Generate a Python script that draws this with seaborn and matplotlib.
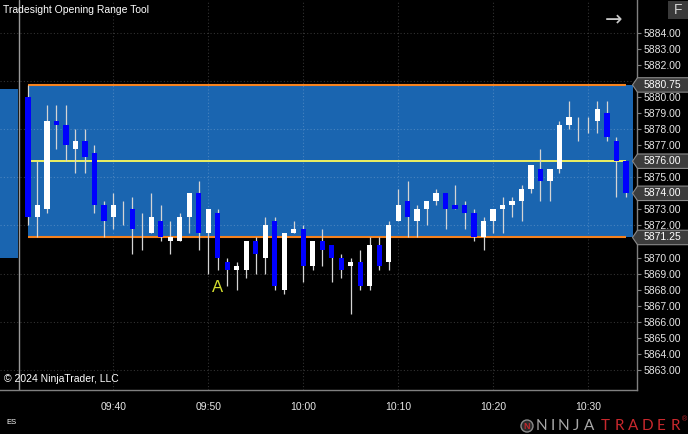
import pandas as pd
import matplotlib.pyplot as plt
import matplotlib.dates as mdates
import matplotlib.transforms as mtransforms
from matplotlib.patches import Polygon, Rectangle, Circle
import seaborn as sns

# ============================
# Data: 1-minute ES bars, 09:31 - 10:34
# ============================
opens = [5880, 5872.5, 5873, 5878.5, 5878.25, 5876.75, 5877.25, 5876.5, 5873.25, 5872.5,
         5872.75, 5873, 5871.5, 5871.5, 5872.25, 5871, 5871, 5872.5, 5874, 5871.5,
         5872.75, 5869.75, 5869.25, 5869.25, 5871, 5870, 5872.25, 5868, 5871.5, 5871.75,
         5869.5, 5871, 5870.75, 5870, 5869.5, 5869.75, 5868.25, 5870.75, 5869.75, 5872.25,
         5873.5, 5872.25, 5873, 5873.5, 5874, 5873.25, 5873.25, 5872.75, 5871.25, 5872.25,
         5873, 5873.25, 5873.5, 5874.25, 5875.5, 5874.75, 5875.5, 5878.25, 5878, 5878.25,
         5878.5, 5879, 5877.25, 5876]
highs = [5880.75, 5876, 5879.5, 5879.5, 5879.5, 5878, 5878, 5877, 5873.5, 5874,
         5873.5, 5873.75, 5872.75, 5874, 5873.25, 5872.25, 5872.75, 5874, 5874.75, 5873,
         5873, 5870, 5869.75, 5871, 5871.25, 5872.5, 5872.5, 5871.5, 5872.25, 5872,
         5871, 5871.75, 5870.75, 5870.25, 5870, 5870.5, 5871.25, 5871.25, 5872.25, 5874.25,
         5874.75, 5873.25, 5873.5, 5874.25, 5874, 5874.5, 5873.5, 5873, 5872.5, 5873,
         5873.75, 5873.75, 5874.5, 5875.75, 5876.75, 5875.5, 5878.5, 5879.75, 5878.75, 5878.75,
         5879.75, 5879.75, 5877.5, 5876]
lows = [5872, 5871.25, 5872.75, 5876.75, 5876, 5875.25, 5875.25, 5872.75, 5871.25, 5871.75,
        5872, 5870.25, 5870.5, 5871.5, 5871, 5870.25, 5871, 5871.5, 5870.5, 5869,
        5869.25, 5868.25, 5868, 5868.75, 5869, 5869, 5868, 5867.75, 5871.5, 5868.5,
        5869.25, 5869.5, 5868.5, 5868.75, 5866.5, 5868, 5868, 5869.25, 5869.25, 5872.25,
        5871.25, 5871.25, 5872, 5873.25, 5871.75, 5873, 5871.75, 5871, 5870.5, 5871.5,
        5871.5, 5872.5, 5872.25, 5874, 5873.5, 5873.5, 5875.25, 5878, 5877.25, 5877.75,
        5877.75, 5877.25, 5873.75, 5873.75]
closes = [5872.5, 5873.25, 5878.5, 5878.25, 5877, 5877.25, 5876.25, 5873.25, 5872.25, 5873.25,
          5872.75, 5871.75, 5871.5, 5872.5, 5871.25, 5871.25, 5872.5, 5874, 5871.5, 5873,
          5870, 5869.25, 5869.5, 5871, 5870.25, 5872, 5868.25, 5871.5, 5871.75, 5869.5,
          5871, 5870.5, 5870, 5869.25, 5869.75, 5868.25, 5870.75, 5869.5, 5872, 5873.25,
          5872.5, 5873, 5873.5, 5874, 5873, 5873, 5872.75, 5871.25, 5872.25, 5873,
          5873.25, 5873.5, 5874.25, 5875.75, 5874.75, 5875.5, 5878.25, 5878.75, 5878, 5878.25,
          5879.25, 5877.5, 5876, 5874]

range_high = 5880.75
range_mid = 5876.00
range_low = 5871.25
prior_box = (5870.0, 5880.5)
signal_bar = 20
signal_label = "A"
y_ticks = list(range(5863, 5885))
hidden_ticks = [5871, 5874, 5876, 5881]   # sit under the price markers
grid_levels = list(range(5863, 5885, 3))
x_labels = ["09:40", "09:50", "10:00", "10:10", "10:20", "10:30"]

times = pd.date_range("2024-06-03 09:31", periods=len(opens), freq="min")
df = pd.DataFrame({"time": times, "open": opens, "high": highs,
                   "low": lows, "close": closes})
df["x"] = mdates.date2num(df["time"])
df["up"] = df["close"] >= df["open"]

# ============================
# Style
# ============================
sns.set_theme(style="dark", rc={
    "figure.facecolor": "black", "axes.facecolor": "black",
    "axes.edgecolor": "#808080", "text.color": "#e6e6e6",
    "xtick.color": "#e6e6e6", "ytick.color": "#e6e6e6",
})
plt.rcParams["font.family"] = ["Liberation Sans", "DejaVu Sans"]

fig = plt.figure(figsize=(6.88, 4.34), dpi=100)
W, H = 688, 434
ax = fig.add_axes([0, 44 / H, 637 / W, 390 / H])
over = fig.add_axes([0, 0, 1, 1], zorder=10)
over.set_xlim(0, W)
over.set_ylim(H, 0)
over.axis("off")
over.patch.set_visible(False)

minute = 1 / 1440
x0 = df["x"].iloc[0]
x_last = df["x"].iloc[-1]
ax.set_xlim(x0 - 2.95 * minute, x0 + 64.17 * minute)
ax.set_ylim(5861.75, 5886.04)

# previous box + session break
t_open = x0 - minute
ax.add_patch(Rectangle((x0 - 5 * minute, prior_box[0]), 3.95 * minute,
                       prior_box[1] - prior_box[0], facecolor="#1a65b0",
                       edgecolor="none", zorder=1))
ax.axvline(t_open, color="#9a9a9a", lw=1, zorder=2)

# opening range fill + lines
ax.add_patch(Rectangle((x0, range_low), x_last - x0 + 0.75 * minute,
                       range_high - range_low, facecolor="#1a65b0",
                       edgecolor="none", zorder=1))
ax.hlines([range_high, range_low], x0, x_last, color="#f5821f", lw=1.5, zorder=3)
ax.hlines(range_mid, x0, x_last, color="#eef060", lw=1.4, zorder=3)

# dotted grid
x_ticks = [mdates.date2num(pd.Timestamp("2024-06-03 " + s)) for s in x_labels]
ax.hlines(grid_levels, *ax.get_xlim(), color="white", alpha=0.2, lw=0.8,
          linestyles=(0, (1, 2)), zorder=1.5)
ax.vlines(x_ticks, *ax.get_ylim(), color="white", alpha=0.2, lw=0.8,
          linestyles=(0, (1, 2)), zorder=1.5)

# ============================
# Candles
# ============================
ax.vlines(df["x"], df["low"], df["high"], color="#d4d4d4", lw=0.9, zorder=4)
colors = ["white" if u else "#0000ff" for u in df["up"]]
ax.bar(df["x"], df["close"] - df["open"], bottom=df["open"], width=0.55 * minute,
       color=colors, linewidth=0, zorder=5)

ax.text(df["x"].iloc[signal_bar], 5868.15, signal_label, color="#d4de2e",
        fontsize=12, ha="center", va="center", zorder=6)

# ============================
# Axes
# ============================
ax.yaxis.tick_right()
ax.set_yticks(y_ticks)
ax.set_yticklabels(["" if t in hidden_ticks else f"{t:.2f}" for t in y_ticks])
ax.set_xticks(x_ticks)
ax.set_xticklabels(x_labels)
ax.tick_params(axis="y", length=3, width=0.8, color="#808080", pad=2, labelsize=7.5)
ax.tick_params(axis="x", length=3, width=0.8, color="#808080", pad=6, labelsize=7.5)
for side in ["left", "top"]:
    ax.spines[side].set_visible(False)
for side in ["right", "bottom"]:
    ax.spines[side].set_color("#808080")
    ax.spines[side].set_linewidth(1)
ax.grid(False)

# price markers on the right axis
mark = mtransforms.blended_transform_factory(over.transData, ax.transData)
half = 0.45
for level in [range_high, range_mid, closes[-1], range_low]:
    over.add_patch(Polygon([(632.5, level), (637.5, level + half), (690, level + half),
                            (690, level - half), (637.5, level - half)], closed=True,
                           facecolor="#3c3c3c", edgecolor="#8a8a8a", lw=0.8,
                           transform=mark, clip_on=False))
    over.text(644, level, f"{level:.2f}", transform=mark, color="white",
              fontsize=7.5, va="center", ha="left")

# ============================
# Texts / branding
# ============================
over.text(3, 10, "Tradesight Opening Range Tool", color="white", fontsize=7.5, va="center")
over.text(4, 379, "\u00a9 2024 NinjaTrader, LLC", color="white", fontsize=7.5, va="center")
over.text(6, 423, "ES", color="white", fontsize=5.5, va="center")
over.add_patch(Rectangle((668, 1), 20, 18, facecolor="#3a3a3a", edgecolor="none"))
over.text(678, 10, "F", color="#d0d0d0", fontsize=10, ha="center", va="center")
over.text(614, 20, "\u2192", color="#c8c8c8", fontsize=15, ha="center", va="center",
          family="DejaVu Sans")

over.add_patch(Circle((527, 426), 6, facecolor="#2a2a2a", edgecolor="#8a8a8a", lw=1))
over.text(527, 426.5, "N", color="#c0282d", fontsize=6.5, ha="center", va="center",
          fontweight="bold")
letter_x = [541, 553, 563, 576, 589, 605, 619, 633, 647, 661, 675]
for lx, ch in zip(letter_x, "NINJATRADER"):
    over.text(lx, 426, ch, color="#a8a8a8" if lx < 600 else "#c8282d",
              fontsize=11, ha="center", va="center", family="Lato")
over.text(685, 420, "\u00ae", color="#c8282d", fontsize=5, ha="center", va="center")

plt.savefig("out.png", dpi=100, facecolor="black")
